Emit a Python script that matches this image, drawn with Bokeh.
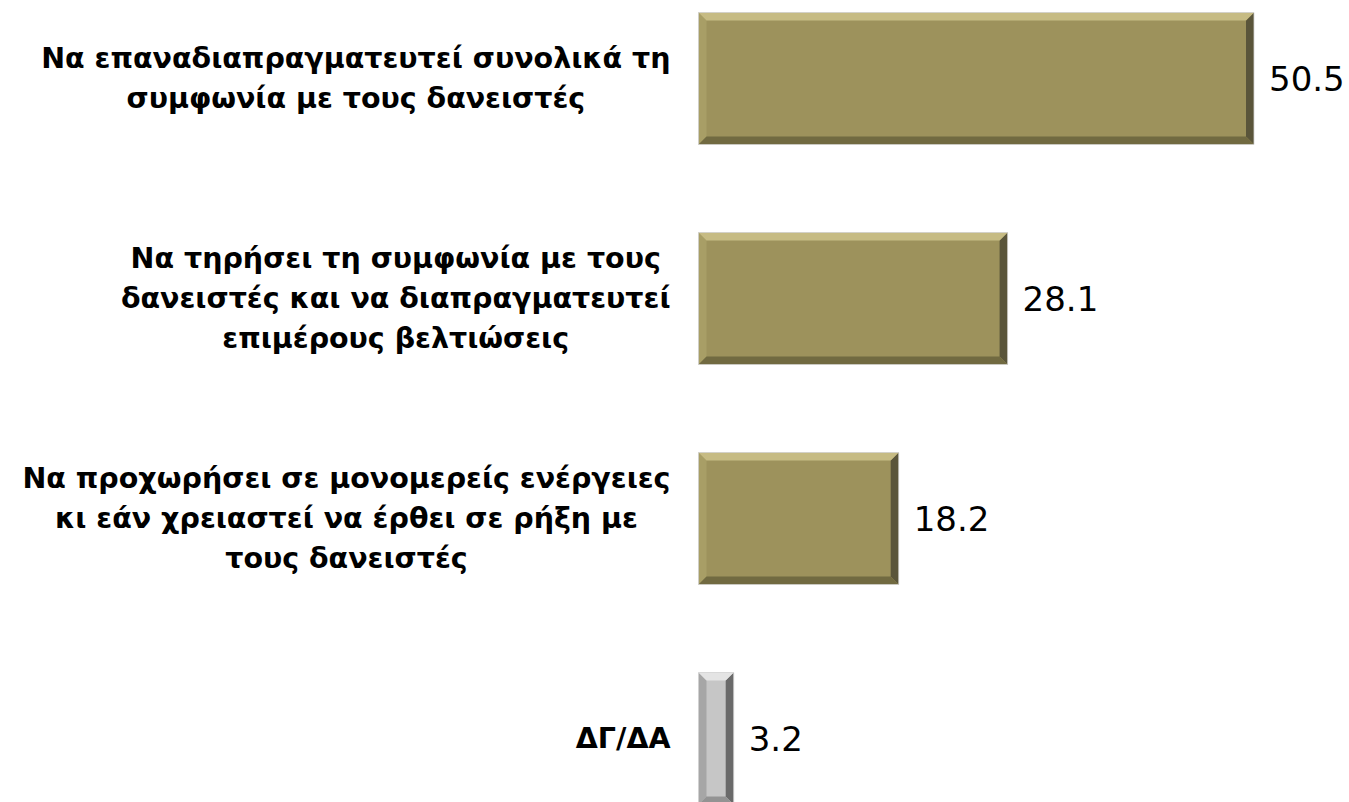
from bokeh.plotting import figure
from bokeh.models import Range1d
from bokeh.embed import file_html
from bokeh.resources import INLINE
from bokeh.core.properties import value

# ---- data ----
categories = [
    "Να επαναδιαπραγματευτεί συνολικά τη\nσυμφωνία με τους δανειστές",
    "Να τηρήσει τη συμφωνία με τους\nδανειστές και να διαπραγματευτεί\nεπιμέρους βελτιώσεις",
    "Να προχωρήσει σε μονομερείς ενέργειες\nκι εάν χρειαστεί να έρθει σε ρήξη με\nτους δανειστές",
    "ΔΓ/ΔΑ",
]
values = [50.5, 28.1, 18.2, 3.2]
value_labels = ["50.5", "28.1", "18.2", "3.2"]
is_gray = [False, False, False, True]

# ---- style ----
OLIVE = dict(main="#9D925C", top="#C6BB83", left="#A89E66", right="#5A553A", bottom="#716A41")
GRAY = dict(main="#C6C6C6", top="#E4E4E4", left="#A6A6A6", right="#6A6A6A", bottom="#939393")

W, H = 1349, 802
X0 = 698.0      # pixel where bars start
PX = 11.0       # pixels per unit
Y0 = 78.0       # pixel centre of first bar
STEP = 220.0    # pixels between bars
BAR_H = 0.6
BEVEL = 8.0

p = figure(width=W, height=H,
           x_range=Range1d(-X0 / PX, (W - X0) / PX),
           y_range=Range1d((H - Y0) / STEP, -Y0 / STEP),
           output_backend="svg", toolbar_location=None,
           x_axis_location=None, y_axis_location=None,
           min_border=0)
p.grid.visible = False
p.outline_line_color = None
p.background_fill_color = "white"
p.border_fill_color = "white"

ys = list(range(len(values)))
palettes = [GRAY if g else OLIVE for g in is_gray]

p.hbar(y=ys, left=0, right=values, height=BAR_H,
       fill_color=[c["main"] for c in palettes], line_color=None)

dx = BEVEL / PX
dy = BEVEL / STEP
sides = {"top": ([], []), "bottom": ([], []), "left": ([], []), "right": ([], [])}
side_cols = {k: [] for k in sides}
for y, v, pal in zip(ys, values, palettes):
    x0, x1 = 0.0, v
    t, b = y - BAR_H / 2, y + BAR_H / 2
    shapes = {
        "top": ([x0, x1, x1 - dx, x0 + dx], [t, t, t + dy, t + dy]),
        "bottom": ([x0, x1, x1 - dx, x0 + dx], [b, b, b - dy, b - dy]),
        "left": ([x0, x0 + dx, x0 + dx, x0], [t, t + dy, b - dy, b]),
        "right": ([x1, x1 - dx, x1 - dx, x1], [t, t + dy, b - dy, b]),
    }
    for k, (sx, sy) in shapes.items():
        sides[k][0].append(sx)
        sides[k][1].append(sy)
        side_cols[k].append(pal[k])

for k in ["left", "right", "top", "bottom"]:
    p.patches(xs=sides[k][0], ys=sides[k][1], fill_color=side_cols[k], line_color=None)

# outer light edge
p.hbar(y=ys, left=0, right=values, height=BAR_H, fill_color=None,
       line_color="#D4D4D4", line_width=1, line_alpha=0.8)

p.text(x=[-28 / PX] * len(ys), y=ys, text=categories,
       text_align="center", anchor="center_right", text_baseline="middle",
       text_font=value("DejaVu Sans"), text_font_style="bold",
       text_font_size="28.5px", text_color="#000000", text_line_height=1.22)

p.text(x=values, y=ys, text=value_labels, x_offset=15,
       text_align="left", text_baseline="middle",
       text_font=value("DejaVu Sans"), text_font_size="34px", text_color="#000000")

open("out.html", "w").write(file_html(p, INLINE))
